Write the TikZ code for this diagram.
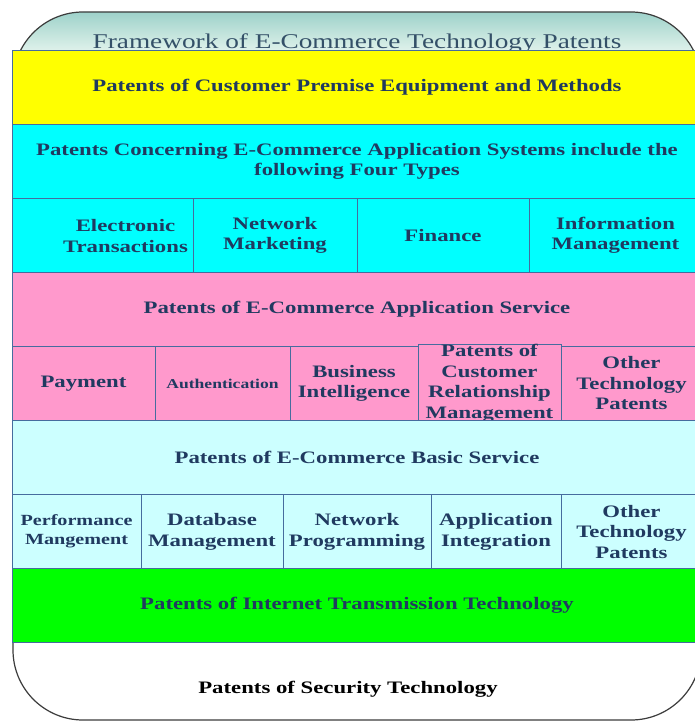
\documentclass[tikz,border=0pt]{standalone}
\usepackage{fontspec}
\setmainfont{Liberation Serif}[FakeStretch=1.3]
\usetikzlibrary{positioning}

\definecolor{txtblue}{RGB}{32,58,96}
\definecolor{titleblue}{RGB}{52,80,104}
\definecolor{lineblue}{RGB}{70,108,158}
\definecolor{framegray}{RGB}{60,60,60}
\definecolor{frameteal}{RGB}{158,210,202}
\definecolor{framelight}{RGB}{222,241,234}
\definecolor{yellowband}{RGB}{255,255,0}
\definecolor{cyanband}{RGB}{0,255,255}
\definecolor{pinkband}{RGB}{255,153,204}
\definecolor{lightcyan}{RGB}{204,255,255}
\definecolor{greenband}{RGB}{0,255,0}

\pgfdeclareverticalshading{frameshade}{100bp}{color(0bp)=(white); color(71.9bp)=(white); color(72.3bp)=(framelight); color(75bp)=(frameteal); color(100bp)=(frameteal)}

\begin{document}
\begin{tikzpicture}[
		x=1pt, y=-1pt,
		font=\bfseries\fontsize{17.5}{20.5}\selectfont,
		node distance=0pt,
		frame/.style={
			draw=framegray,
			line width=1.2pt,
			rounded corners=70pt,
			shading=frameshade,
			minimum width=688pt,
			minimum height=708pt
		},
		band/.style={
			draw=lineblue,
			line width=0.8pt,
			inner sep=0pt,
			outer sep=0pt,
			align=center,
			text=txtblue,
			minimum width=690pt,
			minimum height=74.1pt
		},
		cell/.style={
			draw=lineblue,
			line width=0.8pt,
			inner sep=0pt,
			outer sep=0pt,
			align=center,
			text=txtblue,
			minimum height=74.1pt
		}
		]
		\useasboundingbox (0,0) rectangle (694,722);
		
		% ---- Outer frame and title ----
		\node[frame] (frame) at (357,366) {};
		
		\node[anchor=base, font=\fontsize{21}{24}\selectfont, text=titleblue] (title) at (357,49)
		{Framework of E-Commerce Technology Patents};
		
		% ---- Customer premise ----
		\node[band, fill=yellowband, anchor=north west] (cpe) at (12,50)
		{Patents of Customer Premise Equipment and Methods};
		
		% ---- Application systems ----
		\node[band, fill=cyanband, below=of cpe] (appsys)
		{Patents Concerning E-Commerce Application Systems include the\\following Four Types};
		
		\node[cell, fill=cyanband, minimum width=181pt, below=of appsys.south west, anchor=north west] (etrans)
		{};
		\node[text=txtblue, align=center] (etranstext) at ([xshift=23pt,yshift=-1pt]etrans.center)
		{Electronic\\Transactions};
		\node[cell, fill=cyanband, minimum width=164pt, right=of etrans] (netmkt)
		{Network\\Marketing};
		\node[cell, fill=cyanband, minimum width=172pt, right=of netmkt] (finance)
		{Finance};
		\node[cell, fill=cyanband, minimum width=173pt, right=of finance] (infomgmt)
		{Information\\Management};
		
		% ---- Application service ----
		\node[band, fill=pinkband, below=of etrans.south west, anchor=north west] (appsvc)
		{Patents of E-Commerce Application Service};
		
		\node[cell, fill=pinkband, minimum width=143pt, below=of appsvc.south west, anchor=north west] (payment)
		{Payment};
		\node[cell, fill=pinkband, minimum width=135pt, right=of payment, font=\bfseries\fontsize{13.5}{16}\selectfont] (auth)
		{Authentication};
		\node[cell, fill=pinkband, minimum width=128pt, right=of auth] (bizint)
		{Business\\Intelligence};
		\node[cell, fill=pinkband, minimum width=143pt, right=of bizint] (crm)
		{Patents of\\Customer\\Relationship\\Management};
		\node[cell, fill=pinkband, minimum width=141pt, right=of crm] (othersvc)
		{Other\\Technology\\Patents};
		
		% ---- Basic service ----
		\node[band, fill=lightcyan, below=of payment.south west, anchor=north west] (basic)
		{Patents of E-Commerce Basic Service};
		
		\node[cell, fill=lightcyan, minimum width=129pt, below=of basic.south west, anchor=north west, font=\bfseries\fontsize{15.5}{19}\selectfont] (perf)
		{Performance\\Mangement};
		\node[cell, fill=lightcyan, minimum width=142pt, right=of perf] (dbmgmt)
		{Database\\Management};
		\node[cell, fill=lightcyan, minimum width=148pt, right=of dbmgmt] (netprog)
		{Network\\Programming};
		\node[cell, fill=lightcyan, minimum width=130pt, right=of netprog] (appint)
		{Application\\Integration};
		\node[cell, fill=lightcyan, minimum width=141pt, right=of appint] (otherbasic)
		{Other\\Technology\\Patents};
		
		% ---- Transmission and security ----
		\node[band, fill=greenband, below=of perf.south west, anchor=north west] (transm)
		{Patents of Internet Transmission Technology};
		
		\node[anchor=base, text=black] (security) at (348,693)
		{Patents of Security Technology};
		
	\end{tikzpicture}
\end{document}
